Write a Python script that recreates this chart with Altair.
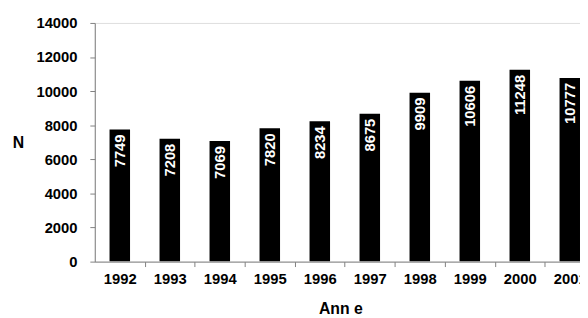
import altair as alt
import pandas as pd

years = [1992, 1993, 1994, 1995, 1996, 1997, 1998, 1999, 2000, 2001]
counts = [7749, 7208, 7069, 7820, 8234, 8675, 9909, 10606, 11248, 10777]
y_ticks = [0, 2000, 4000, 6000, 8000, 10000, 12000, 14000]

df = pd.DataFrame({"year": years, "n": counts})

FONT = "Liberation Sans"
band_px = 50.7
plot_w = 492
x_domain = [1991.5, 1991.5 + plot_w / band_px]

x_scale = alt.Scale(domain=x_domain, nice=False, zero=False)
y_scale = alt.Scale(domain=[0, 14000], nice=False)

x_axis = alt.Axis(
    values=years,
    format="d",
    title="Ann e",
    tickOffset=band_px / 2,
    labelOffset=-band_px / 2,
    tickSize=5,
    labelPadding=5,
    labelFontSize=15,
    labelFontWeight="bold",
    labelFont=FONT,
    labelColor="black",
    labelFlush=False,
    labelOverlap=False,
    domainColor="#808080",
    tickColor="#808080",
    grid=False,
    titleFont=FONT,
    titleFontSize=16,
    titleFontWeight="bold",
    titleColor="black",
    titleX=249,
    titleY=53,
    titleBaseline="alphabetic",
    titleAlign="center",
)

y_axis = alt.Axis(
    values=y_ticks,
    format="d",
    title="N",
    tickSize=5,
    labelPadding=13,
    labelFontSize=15,
    labelFontWeight="bold",
    labelFont=FONT,
    labelColor="black",
    labelOverlap=False,
    domainColor="#808080",
    tickColor="#808080",
    grid=False,
    titleFont=FONT,
    titleFontSize=16,
    titleFontWeight="bold",
    titleColor="black",
    titleAngle=0,
    titleX=-78,
    titleY=121,
    titleAlign="center",
    titleBaseline="middle",
)

base = alt.Chart(df).transform_calculate(
    x0="datum.year - 0.205", x1="datum.year + 0.205"
)

bars = base.mark_bar(color="black", clip=True).encode(
    x=alt.X("x0:Q", scale=x_scale, axis=x_axis),
    x2="x1:Q",
    y=alt.Y("n:Q", scale=y_scale, axis=y_axis),
    y2=alt.datum(0),
)

labels = base.mark_text(
    angle=270,
    align="right",
    baseline="middle",
    color="white",
    font=FONT,
    fontSize=15,
    fontWeight="bold",
    yOffset=5,
).encode(
    x=alt.X("year:Q", scale=x_scale, axis=x_axis),
    y=alt.Y("n:Q", scale=y_scale, axis=y_axis),
    text=alt.Text("n:Q", format="d"),
)

chart = (
    alt.layer(bars, labels)
    .properties(
        width=plot_w,
        height=242,
        autosize=alt.AutoSizeParams(type="none"),
        padding={"left": 88, "top": 13, "right": 0, "bottom": 55},
    )
    .configure_view(strokeWidth=0)
    .configure(background="white")
)

chart.save("out.html", embed_options={"renderer": "svg", "actions": False})
